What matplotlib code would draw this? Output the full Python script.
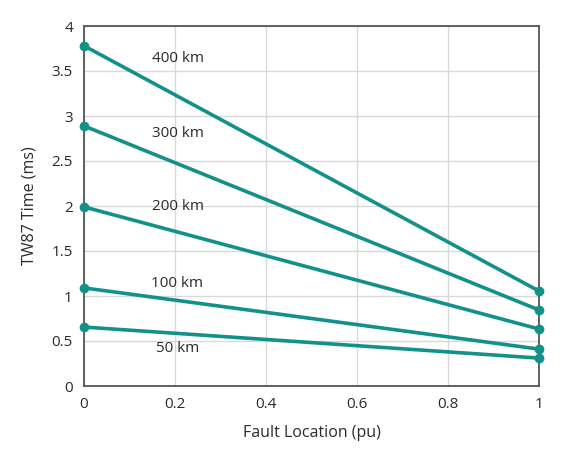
import matplotlib
matplotlib.use("Agg")
import matplotlib.pyplot as plt

plt.rcParams['font.family'] = ['Open Sans', 'DejaVu Sans']

fault_location = [0.0, 1.0]
line_lengths = ["400 km", "300 km", "200 km", "100 km", "50 km"]
tw87_time = {
    "400 km": [3.78, 1.055],
    "300 km": [2.89, 0.845],
    "200 km": [1.99, 0.633],
    "100 km": [1.09, 0.41],
    "50 km": [0.655, 0.31],
}
label_pos = {
    "400 km": (0.149, 3.64),
    "300 km": (0.149, 2.81),
    "200 km": (0.149, 1.99),
    "100 km": (0.147, 1.14),
    "50 km": (0.158, 0.42),
}
x_ticks = [0, 0.2, 0.4, 0.6, 0.8, 1]
x_tick_labels = ["0", "0.2", "0.4", "0.6", "0.8", "1"]
y_ticks = [0, 0.5, 1, 1.5, 2, 2.5, 3, 3.5, 4]
y_tick_labels = ["0", "0.5", "1", "1.5", "2", "2.5", "3", "3.5", "4"]

color = "#12918a"
text_color = "#2a2a2a"

fig = plt.figure(figsize=(5.69, 4.51), dpi=100)
ax = fig.add_axes([84 / 569, 1 - 386 / 451, 455 / 569, 360 / 451])

for name in line_lengths:
    ax.plot(fault_location, tw87_time[name], color=color, lw=2.6,
            marker='o', ms=6, clip_on=False, zorder=3)
    lx, ly = label_pos[name]
    ax.text(lx, ly, name, ha='left', va='center', fontsize=11, color=text_color)

ax.set_xlim(0, 1)
ax.set_ylim(0, 4)
ax.set_xticks(x_ticks)
ax.set_xticklabels(x_tick_labels)
ax.set_yticks(y_ticks)
ax.set_yticklabels(y_tick_labels)
ax.grid(True, color="#d9d9d9", lw=1)
ax.set_axisbelow(True)
ax.tick_params(length=0, labelsize=11, colors=text_color, pad=8)
for s in ax.spines.values():
    s.set_color("#555555")
    s.set_linewidth(1.3)

ax.set_xlabel("Fault Location (pu)", fontsize=11.5, color=text_color, labelpad=9)
ax.set_ylabel("TW87 Time (ms)", fontsize=11.5, color=text_color, labelpad=10)

fig.savefig("out.png", dpi=100)
